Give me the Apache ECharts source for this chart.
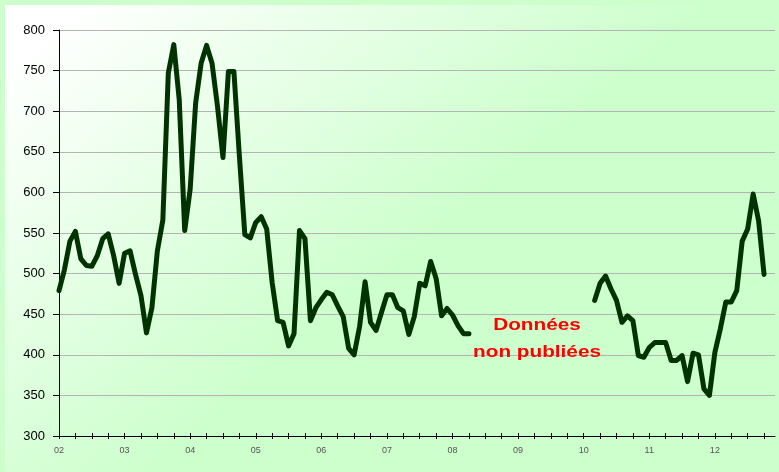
<!DOCTYPE html>
<html>
<head>
<meta charset="utf-8">
<script src="https://cdn.jsdelivr.net/npm/echarts@6/dist/echarts.min.js"></script>
<style>html,body{margin:0;padding:0;background:#ccffcc;}#c{width:779px;height:472px;}</style>
</head>
<body>
<div id="c"></div>
<script>
// Year tick labels (one every 12 months starting Jan 2002)
var yearLabels = ['02','03','04','05','06','07','08','09','10','11','12'];
// Monthly values, Jan 2002 .. Oct 2012 (null = data not published)
var values2002 = [479,505,540,552,518,510,509,522,543,549,522,488];
var values2003 = [525,528,499,473,427,458,528,566,747,782,714,553];
var values2004 = [604,710,759,781,759,706,643,749,749,645,548,544];
var values2005 = [563,570,555,489,442,440,411,426,553,543,442,458];
var values2006 = [468,477,474,460,447,408,400,435,490,440,430,452];
var values2007 = [474,474,458,454,425,447,488,485,515,494,448,457];
var values2008 = [449,436,426,426,null,null,null,null,null,null,null,null];
var values2009 = [null,null,null,null,null,null,null,null,null,null,null,null];
var values2010 = [null,null,467,488,497,481,467,440,448,442,399,397];
var values2011 = [409,415,415,415,393,393,399,367,402,400,358,350];
var values2012 = [403,432,465,465,479,540,555,598,565,499,null,null];
var noteText = 'Données\nnon publiées';

var values = [].concat(values2002,values2003,values2004,values2005,values2006,values2007,
  values2008,values2009,values2010,values2011,values2012);
var months = values.map(function(v,i){ return i; });

var chart = echarts.init(document.getElementById('c'), null, {renderer:'canvas'});
var catAxisBase = {
  type:'category', data: months, boundaryGap:false, position:'bottom', gridIndex:0
};
chart.setOption({
  backgroundColor:'#ccffcc',
  animation:false,
  graphic:[
    {type:'rect', z:-10, silent:true, shape:{x:5,y:5,width:774,height:467},
     style:{fill:new echarts.graphic.LinearGradient(0,0,0.5,1,[
       {offset:0,color:'#ffffff'},{offset:0.08,color:'#ffffff'},
       {offset:0.45,color:'#e2ffe2'},{offset:0.75,color:'#ccffcc'},{offset:1,color:'#ccffcc'}])}},
    {type:'text', z:100, x:537, y:312, scaleX:1.22, scaleY:1.0, silent:true,
      style:{text:noteText, fill:'#ff0000', x:0, y:0,
      font:'bold 17px "Liberation Sans", Arial, sans-serif', textAlign:'center', textVerticalAlign:'top', lineHeight:27}}
  ],
  grid:{left:59, right:4, top:30, bottom:36, containLabel:false},
  xAxis:[
    Object.assign({}, catAxisBase, {
      axisLine:{show:true, lineStyle:{color:'#000', width:1}},
      axisTick:{show:true, inside:false, length:3, lineStyle:{color:'#000'},
        interval:function(i){ return i % 3 === 0; }},
      axisLabel:{show:true, margin:10, color:'#555', fontSize:9,
        fontFamily:'"Liberation Sans Narrow", "Liberation Sans", Arial, sans-serif',
        interval:function(i){ return i % 12 === 0; },
        formatter:function(v){ var i = +v; return i % 12 === 0 ? yearLabels[i/12] : ''; }},
      splitLine:{show:false}
    }),
    Object.assign({}, catAxisBase, {
      axisLine:{show:false},
      axisTick:{show:true, inside:true, length:3, lineStyle:{color:'#000'},
        interval:function(i){ return i % 3 === 0; }},
      axisLabel:{show:false},
      splitLine:{show:false}
    })
  ],
  yAxis:{
    type:'value', min:300, max:800, interval:50,
    axisLine:{show:true, lineStyle:{color:'#000', width:1}},
    axisTick:{show:true, inside:false, length:6, lineStyle:{color:'#000'}},
    axisLabel:{margin:14, color:'#000', fontSize:13, fontFamily:'"Liberation Sans", Arial, sans-serif'},
    splitLine:{show:true, lineStyle:{color:'#b4b4b4', width:1}}
  },
  series:[{
    type:'line', xAxisIndex:0, data: values, connectNulls:false,
    showSymbol:false, symbol:'none', smooth:false,
    lineStyle:{color:'#003300', width:5, cap:'round', join:'round'},
    z:5
  }]
});
</script>
</body>
</html>
